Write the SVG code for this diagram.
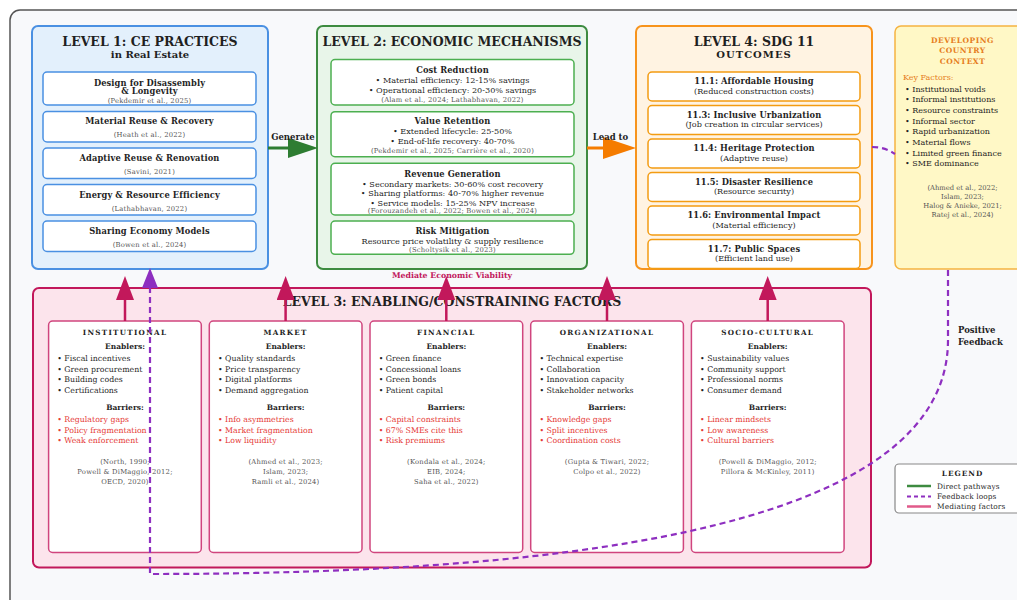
<svg xmlns="http://www.w3.org/2000/svg" width="1017" height="600" viewBox="0 0 1017 600">
<style>
text{font-family:"DejaVu Serif","Liberation Serif",serif;fill:#1f1f1f}
.lt{font-size:12.5px;font-weight:bold;text-anchor:middle}
.ls{font-size:10px;font-weight:bold;text-anchor:middle}
.it{font-size:8.3px;font-weight:bold;text-anchor:middle;letter-spacing:0.1px}
.tx{font-size:8.1px;text-anchor:middle}
.ci{font-size:6.8px;text-anchor:middle;fill:#555;letter-spacing:0.2px}
.ct{font-size:7.2px;font-weight:bold;text-anchor:middle;letter-spacing:1.3px}
.eh{font-size:7.5px;font-weight:bold;text-anchor:middle}
.bu{font-size:7.8px}
.rd{font-size:7.8px;fill:#e53935}
.db{font-size:8px}
.lab{font-size:8.5px;font-weight:bold}
.dv{font-size:7.5px;font-weight:bold;text-anchor:middle;fill:#e67e22;letter-spacing:0.5px}
.lg{font-size:7.4px;letter-spacing:0.1px}
.b1{fill:#fff;stroke:#4a90e2;stroke-width:1.5}
.b2{fill:#fff;stroke:#4caf50;stroke-width:1.5}
.b4{fill:#fff;stroke:#f39c12;stroke-width:1.5}
.b3{fill:#fff;stroke:#d0457e;stroke-width:1.5}
.up{stroke:#c2185b;stroke-width:2.5;fill:none}
.fb{stroke:#8e2fc0;stroke-width:2.2;fill:none;stroke-dasharray:6 4}
</style>
<defs>
<marker id="mUp" markerUnits="userSpaceOnUse" viewBox="0 0 24 18" markerWidth="24" markerHeight="18" refX="0" refY="9" orient="auto"><path d="M0,0 L24,9 L0,18 z" fill="#c2185b"/></marker>
<marker id="mFb" markerUnits="userSpaceOnUse" viewBox="0 0 20 16" markerWidth="20" markerHeight="16" refX="0" refY="8" orient="auto"><path d="M0,0 L20,8 L0,16 z" fill="#8e2fc0"/></marker>
<marker id="mG" markerUnits="userSpaceOnUse" viewBox="0 0 30 20" markerWidth="30" markerHeight="20" refX="0" refY="10" orient="auto"><path d="M0,0 L30,10 L0,20 z" fill="#2e7d32"/></marker>
<marker id="mO" markerUnits="userSpaceOnUse" viewBox="0 0 33 22" markerWidth="33" markerHeight="22" refX="0" refY="11" orient="auto"><path d="M0,0 L33,11 L0,22 z" fill="#f57c00"/></marker>
</defs>
<rect x="0" y="0" width="1017" height="600" fill="#fff"/>
<rect x="10" y="10" width="1100" height="700" rx="10" fill="#f8f9fb" stroke="#555" stroke-width="1.5"/>

<g id="level1">
<rect x="32" y="26" width="236" height="243" rx="6" fill="#e3f0fc" stroke="#4a90e2" stroke-width="2"/>
<text class="lt" x="150" y="45.5">LEVEL 1: CE PRACTICES</text>
<text class="ls" x="150" y="57.5">in Real Estate</text>
<rect class="b1" x="43" y="72" width="213" height="33" rx="4"/>
<text class="it" x="149.5" y="85.5">Design for Disassembly</text>
<text class="it" x="149.5" y="94">&amp; Longevity</text>
<text class="ci" x="149.5" y="102.7">(Pekdemir et al., 2025)</text>
<rect class="b1" x="43" y="111.5" width="213" height="30.5" rx="4"/>
<text class="it" x="149.5" y="124.3">Material Reuse &amp; Recovery</text>
<text class="ci" x="149.5" y="136.7">(Heath et al., 2022)</text>
<rect class="b1" x="43" y="148" width="213" height="30.5" rx="4"/>
<text class="it" x="149.5" y="160.7">Adaptive Reuse &amp; Renovation</text>
<text class="ci" x="149.5" y="174">(Savini, 2021)</text>
<rect class="b1" x="43" y="184.5" width="213" height="30.5" rx="4"/>
<text class="it" x="149.5" y="197.7">Energy &amp; Resource Efficiency</text>
<text class="ci" x="149.5" y="210.7">(Lathabhavan, 2022)</text>
<rect class="b1" x="43" y="221" width="213" height="30.5" rx="4"/>
<text class="it" x="149.5" y="234.3">Sharing Economy Models</text>
<text class="ci" x="149.5" y="247.3">(Bowen et al., 2024)</text>
</g>

<g id="level2">
<rect x="317" y="26" width="270" height="243" rx="6" fill="#e8f5e9" stroke="#3d8b40" stroke-width="2"/>
<text class="lt" x="452" y="45.5">LEVEL 2: ECONOMIC MECHANISMS</text>
<rect class="b2" x="331" y="59.5" width="243" height="45.5" rx="4"/>
<text class="it" x="452.5" y="73.3">Cost Reduction</text>
<text class="tx" x="452.5" y="83.3">• Material efficiency: 12-15% savings</text>
<text class="tx" x="452.5" y="92.7">• Operational efficiency: 20-30% savings</text>
<text class="ci" x="452.5" y="101.5">(Alam et al., 2024; Lathabhavan, 2022)</text>
<rect class="b2" x="331" y="111.7" width="243" height="45" rx="4"/>
<text class="it" x="452.5" y="124.3">Value Retention</text>
<text class="tx" x="452.5" y="134.3">• Extended lifecycle: 25-50%</text>
<text class="tx" x="452.5" y="144">• End-of-life recovery: 40-70%</text>
<text class="ci" x="452.5" y="153.3">(Pekdemir et al., 2025; Carrière et al., 2020)</text>
<rect class="b2" x="331" y="163.3" width="243" height="51.7" rx="4"/>
<text class="it" x="452.5" y="176.7">Revenue Generation</text>
<text class="tx" x="452.5" y="186.7">• Secondary markets: 30-60% cost recovery</text>
<text class="tx" x="452.5" y="196">• Sharing platforms: 40-70% higher revenue</text>
<text class="tx" x="452.5" y="205.7">• Service models: 15-25% NPV increase</text>
<text class="ci" x="452.5" y="213.3">(Forouzandeh et al., 2022; Bowen et al., 2024)</text>
<rect class="b2" x="331" y="221" width="243" height="33.3" rx="4"/>
<text class="it" x="452.5" y="234.3">Risk Mitigation</text>
<text class="tx" x="452.5" y="244.3">Resource price volatility &amp; supply resilience</text>
<text class="ci" x="452.5" y="252.3">(Scholtysik et al., 2023)</text>
</g>

<g id="level4">
<rect x="636" y="26" width="236" height="243" rx="6" fill="#fff3e2" stroke="#f7941d" stroke-width="2"/>
<text class="lt" x="754" y="45.5">LEVEL 4: SDG 11</text>
<text class="ls" x="754" y="57.5" style="letter-spacing:1px">OUTCOMES</text>
<rect class="b4" x="648" y="72" width="212" height="29" rx="4"/>
<text class="it" x="754" y="84.3">11.1: Affordable Housing</text>
<text class="tx" x="754" y="93.7">(Reduced construction costs)</text>
<rect class="b4" x="648" y="105.5" width="212" height="29" rx="4"/>
<text class="it" x="754" y="117.8">11.3: Inclusive Urbanization</text>
<text class="tx" x="754" y="127.2">(Job creation in circular services)</text>
<rect class="b4" x="648" y="139" width="212" height="29" rx="4"/>
<text class="it" x="754" y="151.3">11.4: Heritage Protection</text>
<text class="tx" x="754" y="160.7">(Adaptive reuse)</text>
<rect class="b4" x="648" y="172.5" width="212" height="29" rx="4"/>
<text class="it" x="754" y="184.8">11.5: Disaster Resilience</text>
<text class="tx" x="754" y="194.2">(Resource security)</text>
<rect class="b4" x="648" y="206" width="212" height="29" rx="4"/>
<text class="it" x="754" y="218.3">11.6: Environmental Impact</text>
<text class="tx" x="754" y="227.7">(Material efficiency)</text>
<rect class="b4" x="648" y="239.5" width="212" height="29" rx="4"/>
<text class="it" x="754" y="251.8">11.7: Public Spaces</text>
<text class="tx" x="754" y="261.2">(Efficient land use)</text>
</g>

<g id="context">
<rect x="895" y="26" width="135" height="243" rx="6" fill="#fff8c6" stroke="#f5b342" stroke-width="1.5"/>
<text class="dv" x="962.5" y="42.7">DEVELOPING</text>
<text class="dv" x="962.5" y="53">COUNTRY</text>
<text class="dv" x="962.5" y="63.5">CONTEXT</text>
<text x="903" y="80" style="font-size:8px;fill:#e67e22">Key Factors:</text>
<text class="db" x="905" y="91.7">• Institutional voids</text>
<text class="db" x="905" y="102.4">• Informal institutions</text>
<text class="db" x="905" y="113">• Resource constraints</text>
<text class="db" x="905" y="123.6">• Informal sector</text>
<text class="db" x="905" y="134.3">• Rapid urbanization</text>
<text class="db" x="905" y="145">• Material flows</text>
<text class="db" x="905" y="155.7">• Limited green finance</text>
<text class="db" x="905" y="166.3">• SME dominance</text>
<text class="ci" x="962.5" y="190" style="letter-spacing:0">(Ahmed et al., 2022;</text>
<text class="ci" x="962.5" y="199" style="letter-spacing:0">Islam, 2023;</text>
<text class="ci" x="962.5" y="208.3" style="letter-spacing:0">Halog &amp; Anieke, 2021;</text>
<text class="ci" x="962.5" y="217.3" style="letter-spacing:0">Ratej et al., 2024)</text>
</g>

<g id="level3">
<rect x="33" y="288" width="838" height="279.5" rx="6" fill="#fce4ec" stroke="#c2185b" stroke-width="2"/>
<text class="lt" x="452" y="305.5">LEVEL 3: ENABLING/CONSTRAINING FACTORS</text>
</g>

<g id="institutional">
<rect class="b3" x="48.6" y="321" width="152.7" height="231.5" rx="4"/>
<text class="ct" x="125" y="335">INSTITUTIONAL</text>
<text class="eh" x="125" y="349.3">Enablers:</text>
<text class="bu" x="57.3" y="360.7">• Fiscal incentives</text>
<text class="bu" x="57.3" y="371.5">• Green procurement</text>
<text class="bu" x="57.3" y="382.3">• Building codes</text>
<text class="bu" x="57.3" y="393.1">• Certifications</text>
<text class="eh" x="125" y="410">Barriers:</text>
<text class="rd" x="57.3" y="421.7">• Regulatory gaps</text>
<text class="rd" x="57.3" y="432.5">• Policy fragmentation</text>
<text class="rd" x="57.3" y="443.3">• Weak enforcement</text>
<text class="ci" x="125" y="464">(North, 1990;</text>
<text class="ci" x="125" y="474">Powell &amp; DiMaggio, 2012;</text>
<text class="ci" x="125" y="484">OECD, 2020)</text>
</g>

<g id="market">
<rect class="b3" x="209.3" y="321" width="152.7" height="231.5" rx="4"/>
<text class="ct" x="285.6" y="335">MARKET</text>
<text class="eh" x="285.6" y="349.3">Enablers:</text>
<text class="bu" x="218" y="360.7">• Quality standards</text>
<text class="bu" x="218" y="371.5">• Price transparency</text>
<text class="bu" x="218" y="382.3">• Digital platforms</text>
<text class="bu" x="218" y="393.1">• Demand aggregation</text>
<text class="eh" x="285.6" y="410">Barriers:</text>
<text class="rd" x="218" y="421.7">• Info asymmetries</text>
<text class="rd" x="218" y="432.5">• Market fragmentation</text>
<text class="rd" x="218" y="443.3">• Low liquidity</text>
<text class="ci" x="285.6" y="464">(Ahmed et al., 2023;</text>
<text class="ci" x="285.6" y="474">Islam, 2023;</text>
<text class="ci" x="285.6" y="484">Ramli et al., 2024)</text>
</g>

<g id="financial">
<rect class="b3" x="370" y="321" width="152.7" height="231.5" rx="4"/>
<text class="ct" x="446.3" y="335">FINANCIAL</text>
<text class="eh" x="446.3" y="349.3">Enablers:</text>
<text class="bu" x="378.7" y="360.7">• Green finance</text>
<text class="bu" x="378.7" y="371.5">• Concessional loans</text>
<text class="bu" x="378.7" y="382.3">• Green bonds</text>
<text class="bu" x="378.7" y="393.1">• Patient capital</text>
<text class="eh" x="446.3" y="410">Barriers:</text>
<text class="rd" x="378.7" y="421.7">• Capital constraints</text>
<text class="rd" x="378.7" y="432.5">• 67% SMEs cite this</text>
<text class="rd" x="378.7" y="443.3">• Risk premiums</text>
<text class="ci" x="446.3" y="464">(Kondala et al., 2024;</text>
<text class="ci" x="446.3" y="474">EIB, 2024;</text>
<text class="ci" x="446.3" y="484">Saha et al., 2022)</text>
</g>

<g id="organizational">
<rect class="b3" x="530.7" y="321" width="152.7" height="231.5" rx="4"/>
<text class="ct" x="607" y="335">ORGANIZATIONAL</text>
<text class="eh" x="607" y="349.3">Enablers:</text>
<text class="bu" x="539.4" y="360.7">• Technical expertise</text>
<text class="bu" x="539.4" y="371.5">• Collaboration</text>
<text class="bu" x="539.4" y="382.3">• Innovation capacity</text>
<text class="bu" x="539.4" y="393.1">• Stakeholder networks</text>
<text class="eh" x="607" y="410">Barriers:</text>
<text class="rd" x="539.4" y="421.7">• Knowledge gaps</text>
<text class="rd" x="539.4" y="432.5">• Split incentives</text>
<text class="rd" x="539.4" y="443.3">• Coordination costs</text>
<text class="ci" x="607" y="464">(Gupta &amp; Tiwari, 2022;</text>
<text class="ci" x="607" y="474">Colpo et al., 2022)</text>
</g>

<g id="sociocultural">
<rect class="b3" x="691.4" y="321" width="152.7" height="231.5" rx="4"/>
<text class="ct" x="767.7" y="335">SOCIO-CULTURAL</text>
<text class="eh" x="767.7" y="349.3">Enablers:</text>
<text class="bu" x="700.1" y="360.7">• Sustainability values</text>
<text class="bu" x="700.1" y="371.5">• Community support</text>
<text class="bu" x="700.1" y="382.3">• Professional norms</text>
<text class="bu" x="700.1" y="393.1">• Consumer demand</text>
<text class="eh" x="767.7" y="410">Barriers:</text>
<text class="rd" x="700.1" y="421.7">• Linear mindsets</text>
<text class="rd" x="700.1" y="432.5">• Low awareness</text>
<text class="rd" x="700.1" y="443.3">• Cultural barriers</text>
<text class="ci" x="767.7" y="464">(Powell &amp; DiMaggio, 2012;</text>
<text class="ci" x="767.7" y="474">Pillora &amp; McKinley, 2011)</text>
</g>

<g id="connectors">
<path d="M268,148 L288,148" stroke="#2e7d32" stroke-width="3" fill="none" marker-end="url(#mG)"/>
<text class="lab" x="293" y="140" text-anchor="middle">Generate</text>
<path d="M587,148 L603,148" stroke="#f57c00" stroke-width="3" fill="none" marker-end="url(#mO)"/>
<text class="lab" x="610.5" y="140" text-anchor="middle">Lead to</text>
<path class="up" d="M125,321 L125,300" marker-end="url(#mUp)"/>
<path class="up" d="M285.6,321 L285.6,300" marker-end="url(#mUp)"/>
<path class="up" d="M446.3,321 L446.3,300" marker-end="url(#mUp)"/>
<path class="up" d="M607,321 L607,300" marker-end="url(#mUp)"/>
<path class="up" d="M767.7,321 L767.7,300" marker-end="url(#mUp)"/>
<text x="452" y="277.5" text-anchor="middle" style="font-size:7.8px;font-weight:bold;fill:#c2185b">Mediate Economic Viability</text>
<path class="fb" d="M872,147 Q885,147 895,154"/>
<path class="fb" d="M948,270 L948,340 C948,520 600,574 150,574 L150,288" marker-end="url(#mFb)"/>
<text class="lab" x="958" y="333">Positive</text>
<text class="lab" x="958" y="344.5">Feedback</text>
</g>

<g id="legend">
<rect x="895" y="464" width="135" height="49" rx="4" fill="#fff" stroke="#888" stroke-width="1.2"/>
<text x="962.5" y="476" text-anchor="middle" style="font-size:7.3px;font-weight:bold;letter-spacing:1px">LEGEND</text>
<line x1="907" y1="486" x2="931" y2="486" stroke="#3d8b40" stroke-width="2.5"/>
<line x1="907" y1="496.5" x2="931" y2="496.5" stroke="#8e2fc0" stroke-width="2" stroke-dasharray="4 3"/>
<line x1="907" y1="506.5" x2="931" y2="506.5" stroke="#e05a8a" stroke-width="2.5"/>
<text class="lg" x="937" y="488.5">Direct pathways</text>
<text class="lg" x="937" y="499">Feedback loops</text>
<text class="lg" x="937" y="509">Mediating factors</text>
</g>
</svg>
